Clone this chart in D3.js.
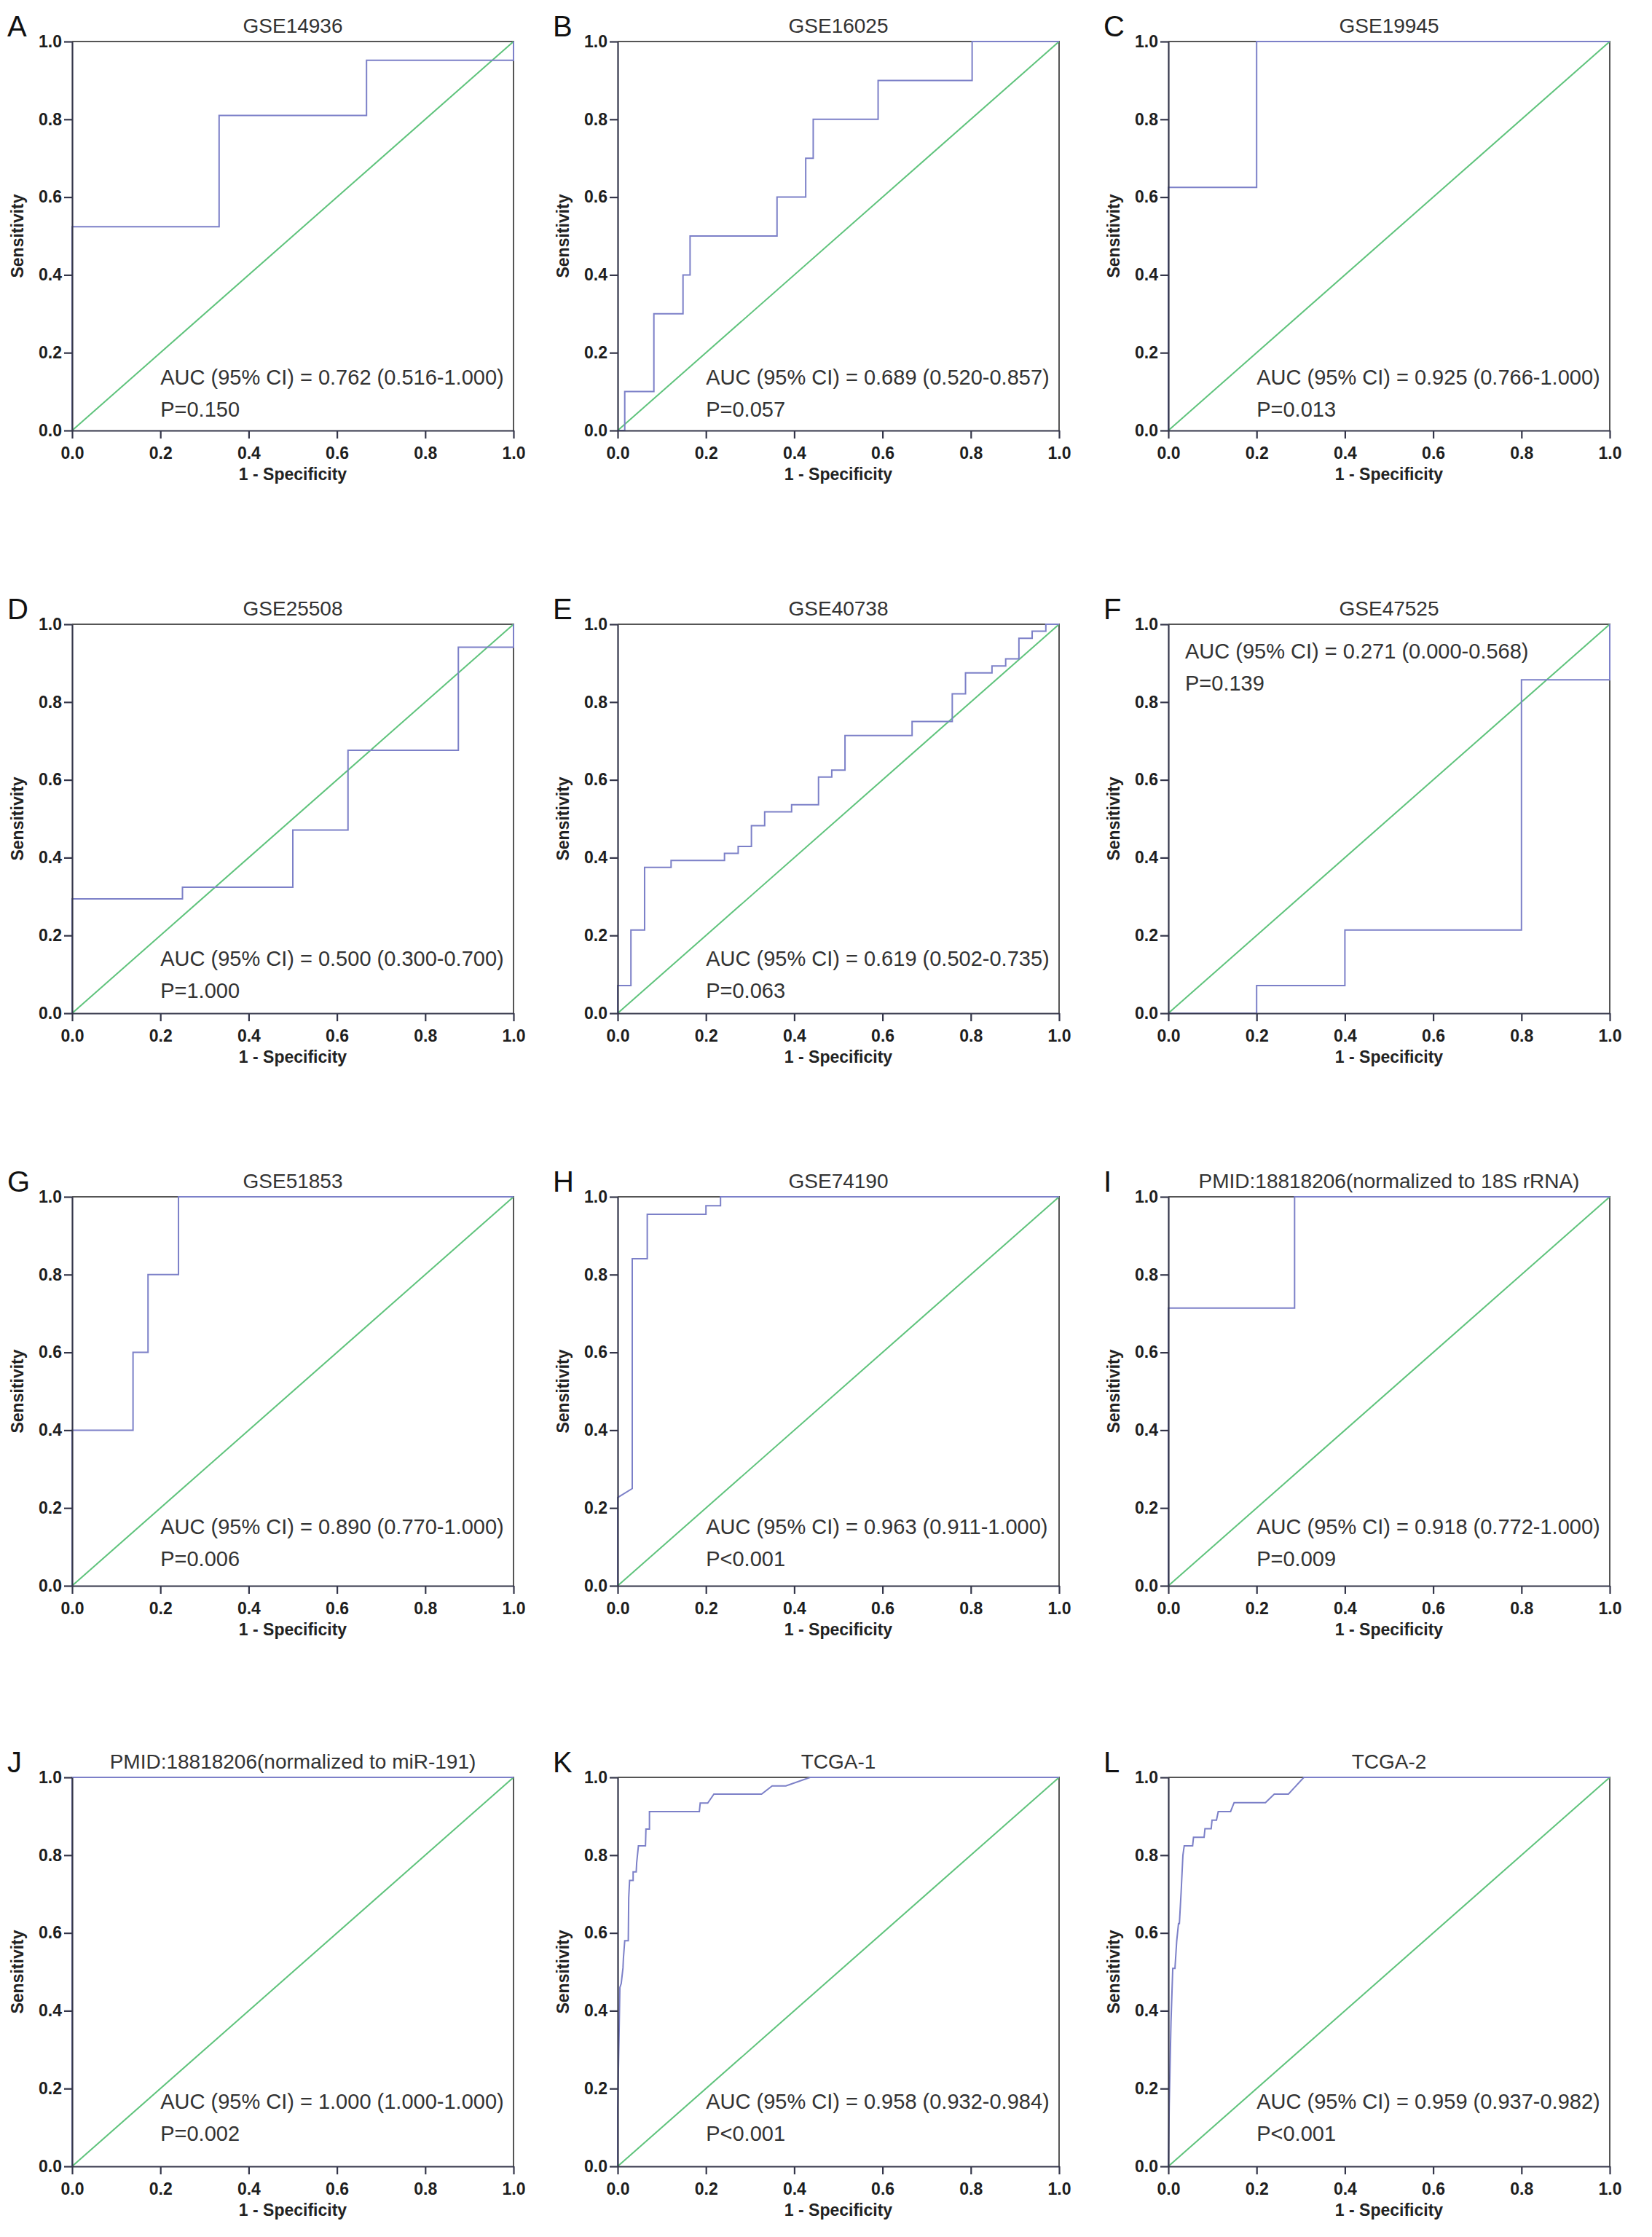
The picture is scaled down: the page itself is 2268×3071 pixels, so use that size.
<!DOCTYPE html>
<html lang="en">
<head>
  <meta charset="UTF-8">
  <title>ROC curves</title>
  <script src="https://d3js.org/d3.v7.min.js"></script>
  <style>
    body { margin: 0; background: #fff; }
    text { font-family: 'Liberation Sans', Arial, Helvetica, sans-serif; fill: #222; }
    .tick text { font-weight: bold; font-size: 23px; fill: #1e1e1e; }
    .axis path, .axis line { stroke: #34364a; stroke-width: 2.2px; }
    .axis-title { font-weight: bold; font-size: 23px; }
    .panel-title { font-size: 28px; fill: #333; }
    .letter { font-size: 40px; fill: #111; }
    .stats { font-size: 29px; fill: #333; }
  </style>
</head>
<body>
<script>
  // panel labels and titles
  var letters = ["A", "B", "C", "D", "E", "F", "G", "H", "I", "J", "K", "L"];
  var titles = ["GSE14936", "GSE16025", "GSE19945", "GSE25508", "GSE40738", "GSE47525",
    "GSE51853", "GSE74190", "PMID:18818206(normalized to 18S rRNA)",
    "PMID:18818206(normalized to miR-191)", "TCGA-1", "TCGA-2"];
  var aucTexts = ["0.762 (0.516-1.000)", "0.689 (0.520-0.857)", "0.925 (0.766-1.000)",
    "0.500 (0.300-0.700)", "0.619 (0.502-0.735)", "0.271 (0.000-0.568)",
    "0.890 (0.770-1.000)", "0.963 (0.911-1.000)", "0.918 (0.772-1.000)",
    "1.000 (1.000-1.000)", "0.958 (0.932-0.984)", "0.959 (0.937-0.982)"];
  var pTexts = ["P=0.150", "P=0.057", "P=0.013", "P=1.000", "P=0.063", "P=0.139",
    "P=0.006", "P<0.001", "P=0.009", "P=0.002", "P<0.001", "P<0.001"];
  var ticks = [0, 0.2, 0.4, 0.6, 0.8, 1.0];

  // ROC vertices: [1 - specificity, sensitivity]
  var rocA = [[0,0],[0,0.524],[0.333,0.524],[0.333,0.810],[0.667,0.810],[0.667,0.952],[1,0.952],[1,1]];
  var rocB = [[0,0],[0.016,0],[0.016,0.1],[0.082,0.1],[0.082,0.3],[0.148,0.3],[0.148,0.4],[0.164,0.4],
    [0.164,0.5],[0.361,0.5],[0.361,0.6],[0.426,0.6],[0.426,0.7],[0.443,0.7],[0.443,0.8],[0.590,0.8],
    [0.590,0.9],[0.803,0.9],[0.803,1],[1,1]];
  var rocC = [[0,0],[0,0.625],[0.2,0.625],[0.2,1],[1,1]];
  var rocD = [[0,0],[0,0.294],[0.25,0.294],[0.25,0.324],[0.5,0.324],[0.5,0.471],[0.625,0.471],
    [0.625,0.676],[0.875,0.676],[0.875,0.941],[1,0.941],[1,1]];
  var rocE = [[0,0],[0,0.071],[0.030,0.071],[0.030,0.214],[0.061,0.214],[0.061,0.375],[0.121,0.375],
    [0.121,0.393],[0.242,0.393],[0.242,0.411],[0.273,0.411],[0.273,0.429],[0.303,0.429],[0.303,0.482],
    [0.333,0.482],[0.333,0.518],[0.394,0.518],[0.394,0.536],[0.455,0.536],[0.455,0.607],[0.485,0.607],
    [0.485,0.625],[0.515,0.625],[0.515,0.714],[0.667,0.714],[0.667,0.750],[0.758,0.750],[0.758,0.821],
    [0.788,0.821],[0.788,0.875],[0.848,0.875],[0.848,0.893],[0.879,0.893],[0.879,0.911],[0.909,0.911],
    [0.909,0.964],[0.939,0.964],[0.939,0.982],[0.970,0.982],[0.970,1],[1,1]];
  var rocF = [[0,0],[0.2,0],[0.2,0.071],[0.4,0.071],[0.4,0.214],[0.8,0.214],[0.8,0.857],[1,0.857],[1,1]];
  var rocG = [[0,0],[0,0.4],[0.138,0.4],[0.138,0.6],[0.172,0.6],[0.172,0.8],[0.241,0.8],[0.241,1],[1,1]];
  var rocH = [[0,0],[0,0.227],[0.033,0.25],[0.033,0.841],[0.067,0.841],[0.067,0.955],[0.2,0.955],
    [0.2,0.977],[0.233,0.977],[0.233,1],[1,1]];
  var rocI = [[0,0],[0,0.714],[0.286,0.714],[0.286,1],[1,1]];
  var rocJ = [[0,0],[0,1],[1,1]];
  var rocK = [[0,0],[0,0.15],[0.003,0.33],[0.005,0.46],[0.008,0.47],[0.012,0.51],[0.013,0.535],
    [0.016,0.58],[0.024,0.58],[0.025,0.69],[0.027,0.735],[0.035,0.735],[0.035,0.757],[0.042,0.757],
    [0.043,0.78],[0.047,0.824],[0.063,0.824],[0.064,0.867],[0.072,0.867],[0.072,0.912],[0.185,0.912],
    [0.187,0.934],[0.204,0.934],[0.218,0.957],[0.326,0.957],[0.35,0.978],[0.381,0.978],[0.436,1],[1,1]];
  var rocL = [[0,0],[0.002,0.158],[0.006,0.37],[0.01,0.509],[0.015,0.509],[0.019,0.58],[0.023,0.624],
    [0.025,0.624],[0.029,0.706],[0.033,0.8],[0.036,0.824],[0.055,0.824],[0.057,0.846],[0.081,0.846],
    [0.083,0.868],[0.097,0.868],[0.099,0.89],[0.109,0.89],[0.113,0.912],[0.141,0.912],[0.149,0.935],
    [0.22,0.935],[0.24,0.957],[0.272,0.957],[0.307,1],[1,1]];

  var curves = [rocA, rocB, rocC, rocD, rocE, rocF, rocG, rocH, rocI, rocJ, rocK, rocL];

  var width = 2268, height = 3071;
  var colLeft = [99, 848, 1604];
  var rowTop = [57, 857, 1643, 2440];
  var plotW = 606, plotH = 534;
  // where the AUC/P text sits (fraction of y range) for each row
  var statsLift = [0.118, 0.122, 0.133, 0.148];

  var svg = d3.select("body").append("svg")
    .attr("width", width)
    .attr("height", height);

  svg.append("rect").attr("width", width).attr("height", height).attr("fill", "#fff");

  var x = d3.scaleLinear().domain([0, 1]).range([0, plotW]);
  var y = d3.scaleLinear().domain([0, 1]).range([plotH, 0]);

  var line = d3.line()
    .x(function (d) { return x(d[0]); })
    .y(function (d) { return y(d[1]); });

  letters.forEach(function (letter, i) {
    var col = i % 3, row = Math.floor(i / 3);
    var g = svg.append("g")
      .attr("transform", "translate(" + colLeft[col] + "," + rowTop[row] + ")");

    // frame (top and right)
    g.append("path")
      .attr("d", "M0,0H" + plotW + "V" + plotH)
      .attr("fill", "none")
      .attr("stroke", "#555")
      .attr("stroke-width", 2);

    // reference line
    g.append("path")
      .datum([[0, 0], [1, 1]])
      .attr("fill", "none")
      .attr("stroke", "#5fc37c")
      .attr("stroke-width", 2)
      .attr("d", line);

    g.append("path")
      .datum(curves[i])
      .attr("fill", "none")
      .attr("stroke", "#7c80c8")
      .attr("stroke-width", 2)
      .attr("d", line);

    g.append("g")
      .attr("class", "axis")
      .attr("transform", "translate(0," + plotH + ")")
      .call(d3.axisBottom(x).tickValues(ticks).tickFormat(d3.format(".1f")).tickSize(11).tickSizeOuter(0).tickPadding(6))
      .selectAll(".tick text").attr("dy", "0.95em");

    g.append("g")
      .attr("class", "axis")
      .call(d3.axisLeft(y).tickValues(ticks).tickFormat(d3.format(".1f")).tickSize(11).tickSizeOuter(0).tickPadding(3));

    g.append("text")
      .attr("class", "axis-title")
      .attr("x", plotW / 2)
      .attr("y", plotH + 68)
      .attr("text-anchor", "middle")
      .text("1 - Specificity");

    g.append("text")
      .attr("class", "axis-title")
      .attr("transform", "translate(-67," + plotH / 2 + ")rotate(-90)")
      .attr("text-anchor", "middle")
      .text("Sensitivity");

    g.append("text")
      .attr("class", "panel-title")
      .attr("x", plotW / 2)
      .attr("y", -12)
      .attr("text-anchor", "middle")
      .text(titles[i]);

    g.append("text")
      .attr("class", "letter")
      .attr("x", -89)
      .attr("y", -7)
      .text(letter);

    var top = letter === "F";
    var sx = top ? x(0.038) : x(0.2);
    var sy = top ? y(0.912) : y(statsLift[row]);
    g.append("text")
      .attr("class", "stats")
      .attr("x", sx)
      .attr("y", sy)
      .text("AUC (95% CI) = " + aucTexts[i]);
    g.append("text")
      .attr("class", "stats")
      .attr("x", sx)
      .attr("y", sy + 44)
      .text(pTexts[i]);
  });
</script>
</body>
</html>
